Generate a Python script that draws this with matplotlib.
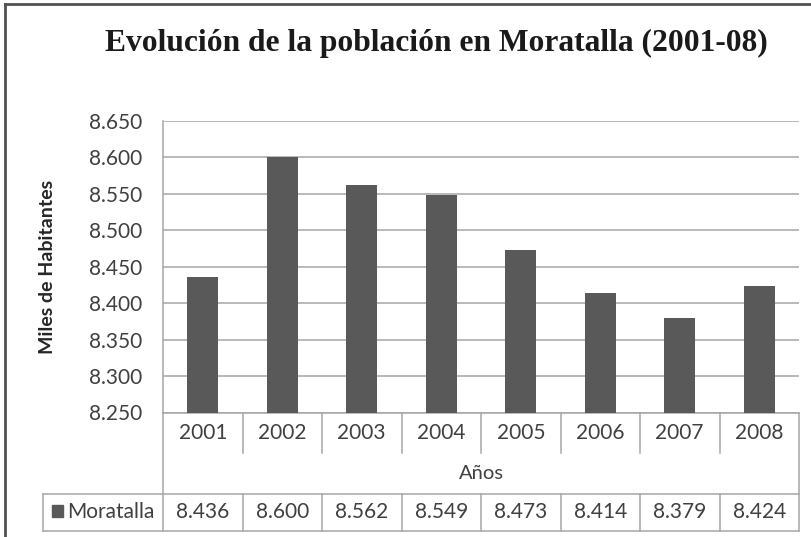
import matplotlib
matplotlib.use("Agg")
import matplotlib.pyplot as plt

# data
years = ["2001", "2002", "2003", "2004", "2005", "2006", "2007", "2008"]
moratalla = [8436, 8600, 8562, 8549, 8473, 8414, 8379, 8424]
serie = "Moratalla"
titulo = "Evolución de la población en Moratalla (2001-08)"
ylabel = "Miles de Habitantes"
xlabel = "Años"
yticks = [8250, 8300, 8350, 8400, 8450, 8500, 8550, 8600, 8650]

W, H = 811, 537
bar_col = "#595959"
line_col = "#a6a6a6"
txt_col = "#404040"
sans = ["Lato", "DejaVu Sans"]
fs = 15


def fmt(v):
    return f"{v:,.0f}".replace(",", ".")


fig = plt.figure(figsize=(W / 100, H / 100), dpi=100)
fig.patch.set_facecolor("white")

# plot area in pixels
L, R, T, B = 163, 799, 121, 412.5
ax = fig.add_axes([L / W, 1 - B / H, (R - L) / W, (B - T) / H])
ax.bar(range(len(years)), moratalla, width=0.39, color=bar_col, zorder=3)
ax.set_xlim(-0.5, len(years) - 0.5)
ax.set_ylim(yticks[0], yticks[-1])
ax.set_yticks(yticks)
ax.set_yticklabels([fmt(v) for v in yticks], family=sans, fontsize=fs, color=txt_col)
ax.set_xticks([])
ax.tick_params(axis="y", length=0, pad=15)
ax.grid(axis="y", color=line_col, linewidth=1.1, zorder=0)
for s in ["top", "right"]:
    ax.spines[s].set_visible(False)
for s in ["left", "bottom"]:
    ax.spines[s].set_color(line_col)
    ax.spines[s].set_linewidth(1.1)

# overlay in pixel coords for the data table and frame
ov = fig.add_axes([0, 0, 1, 1])
ov.set_xlim(0, W)
ov.set_ylim(H, 0)
ov.axis("off")
ov.patch.set_visible(False)

ov.text(48, (T + B) / 2, ylabel, rotation=90, ha="center", va="center", family=sans,
        fontsize=14, fontweight="bold", color="#262626")

n = len(years)
cw = (R - L) / n
r1, r2, r3 = 453, 494, 531
lw = 1.1
# year row separators
for k in range(1, n):
    x = L + k * cw
    ov.plot([x, x], [B, r1], color=line_col, lw=lw)
    ov.plot([x, x], [r2, r3], color=line_col, lw=lw)
ov.plot([L, L], [B, r3], color=line_col, lw=lw)
ov.plot([R, R], [B, r3], color=line_col, lw=lw)
ov.plot([43, R], [r2, r2], color=line_col, lw=lw)
ov.plot([43, R], [r3, r3], color=line_col, lw=lw)
ov.plot([43, 43], [r2, r3], color=line_col, lw=lw)

for i, (yr, v) in enumerate(zip(years, moratalla)):
    cx = L + (i + 0.5) * cw
    ov.text(cx, (B + r1) / 2, yr, ha="center", va="center", family=sans, fontsize=fs, color=txt_col)
    ov.text(cx, (r2 + r3) / 2 - 0.5, fmt(v), ha="center", va="center", family=sans, fontsize=fs, color=txt_col)
ov.text((L + R) / 2, (r1 + r2) / 2, xlabel, ha="center", va="center", family=sans, fontsize=fs - 0.5, color=txt_col)

# legend key in table
ov.add_patch(plt.Rectangle((52, 505), 11, 12, color=bar_col))
ov.text(67, (r2 + r3) / 2 - 0.5, serie, ha="left", va="center", family=sans, fontsize=fs, color=txt_col)

# title
ov.text(436, 51, titulo, ha="center", va="baseline", family=["Liberation Serif"],
        fontsize=22.7, fontweight="bold", color="#1a1a1a")

# outer frame (left and top only visible)
ov.plot([5, 5], [4, H], color="#505050", lw=2)
ov.plot([5, W], [4, 4], color="#505050", lw=2)

fig.savefig("out.png", dpi=100)
